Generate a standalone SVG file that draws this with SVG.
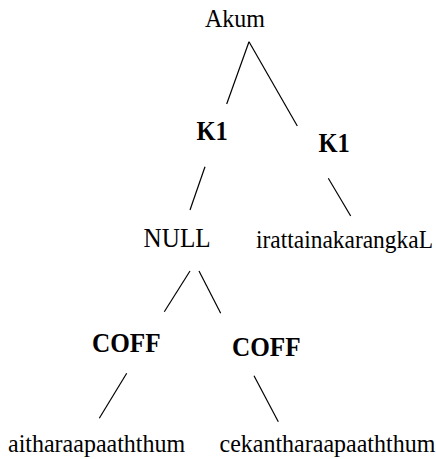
<svg xmlns="http://www.w3.org/2000/svg" width="436" height="459" viewBox="0 0 436 459">
  <style>
    .lbl { font-family: "Liberation Serif", "Times New Roman", serif; font-size: 24px; fill: #000; }
    .cat { font-family: "Liberation Serif", "Times New Roman", serif; font-size: 24.5px; font-weight: bold; fill: #000; }
    .big { font-size: 25.2px; }
    .edge { stroke: #000; stroke-width: 1.2; fill: none; stroke-linecap: butt; }
  </style>
  <rect width="436" height="459" fill="#fff"/>

  <!-- tree branches -->
  <g id="connectors">
    <line class="edge" x1="249" y1="41.7" x2="226.7" y2="104"/>
    <line class="edge" x1="249" y1="41.7" x2="297.3" y2="126"/>
    <line class="edge" x1="205" y1="166.7" x2="190" y2="210"/>
    <line class="edge" x1="328.3" y1="178.3" x2="350.7" y2="216"/>
    <line class="edge" x1="190" y1="271" x2="164.3" y2="311.7"/>
    <line class="edge" x1="199" y1="271" x2="220.7" y2="313.3"/>
    <line class="edge" x1="126.7" y1="373.3" x2="99.3" y2="418.3"/>
    <line class="edge" x1="254" y1="375.7" x2="278.3" y2="421.7"/>
  </g>

  <g id="akum">
    <text class="lbl" transform="translate(205,26.7) scale(1,1.08)">Akum</text>
  </g>
  <g id="k1-left">
    <text class="cat" transform="translate(196.5,140) scale(1,1.08)">K1</text>
  </g>
  <g id="k1-right">
    <text class="cat" transform="translate(318.5,151.7) scale(1,1.08)">K1</text>
  </g>
  <g id="null">
    <text class="lbl big" transform="translate(143.5,246.7) scale(1,1.08)">NULL</text>
  </g>
  <g id="irattainakarangkal">
    <text class="lbl" transform="translate(256,247.5) scale(1,1.08)" textLength="177" lengthAdjust="spacingAndGlyphs">irattainakarangkaL</text>
  </g>
  <g id="coff-left">
    <text class="cat big" transform="translate(92,352.3) scale(1,1.08)">COFF</text>
  </g>
  <g id="coff-right">
    <text class="cat big" transform="translate(232,355.7) scale(1,1.08)">COFF</text>
  </g>
  <g id="aitharaapaaththum">
    <text class="lbl" transform="translate(8,451.7) scale(1,1.08)">aitharaapaaththum</text>
  </g>
  <g id="cekantharaapaaththum">
    <text class="lbl" transform="translate(219.5,451.7) scale(1,1.08)">cekantharaapaaththum</text>
  </g>
</svg>
